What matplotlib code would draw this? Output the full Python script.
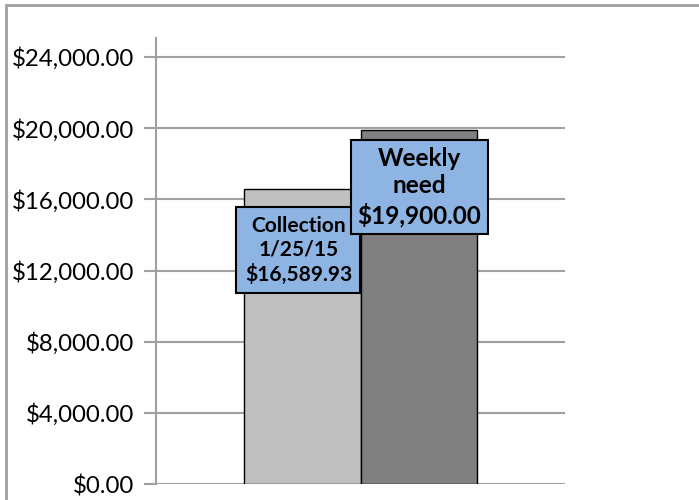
#!/usr/bin/env python3
"""Collection vs weekly need bar chart."""
import matplotlib
matplotlib.use("Agg")
import matplotlib.pyplot as plt
from matplotlib.patches import Rectangle
from matplotlib.ticker import FuncFormatter

labels = ["Collection\n1/25/15\n$16,589.93", "Weekly\nneed\n$19,900.00"]
values = [16589.93, 19900.00]
bar_colors = ["#C0C0C0", "#808080"]
label_x = [-0.009, 0.001]
label_y = [13130, 16700]
label_sizes = [15, 17.5]
label_pads = [0.4, 0.28]
yticks = [0, 4000, 8000, 12000, 16000, 20000, 24000]

plt.rcParams["font.family"] = ["Lato", "DejaVu Sans"]

fig = plt.figure(figsize=(6.99, 5.0), dpi=100)
ax = fig.add_axes([156 / 699, 1 - 484 / 500, (565 - 156) / 699, (484 - 38) / 500])

width = 1 / 3.5
xs = [-width / 2, width / 2]
ax.bar(xs, values, width=width, color=bar_colors, edgecolor="black", linewidth=1.0, zorder=3)

for i, text in enumerate(labels):
    ax.text(xs[i] + label_x[i], label_y[i], text, ha="center", va="center",
            fontsize=label_sizes[i], fontweight="bold", linespacing=1.25, zorder=5 + i,
            bbox=dict(boxstyle=f"square,pad={label_pads[i]}", facecolor="#8EB4E3",
                      edgecolor="black", linewidth=1.5))

ax.set_xlim(-0.5, 0.5)
ax.set_ylim(0, 24000 * 446 / 427)
ax.set_yticks(yticks)
ax.yaxis.set_major_formatter(FuncFormatter(lambda v, _: f"${v:,.2f}"))
ax.set_xticks([])
ax.tick_params(axis="y", length=9, width=1.5, color="#A0A0A0", labelsize=17.3, pad=7)
ax.grid(axis="y", color="#A0A0A0", linewidth=1.5, zorder=0)
for side in ["top", "right", "bottom"]:
    ax.spines[side].set_visible(False)
ax.spines["left"].set_color("#A0A0A0")
ax.spines["left"].set_linewidth(1.5)

# outer chart border (partly cut off at right and bottom)
fig.patches.append(Rectangle((6 / 699, -0.1), 1.2, 1 - 5 / 500 + 0.1, transform=fig.transFigure,
                             fill=False, edgecolor="#A0A0A0", linewidth=2))

fig.savefig("out.png", dpi=100)
